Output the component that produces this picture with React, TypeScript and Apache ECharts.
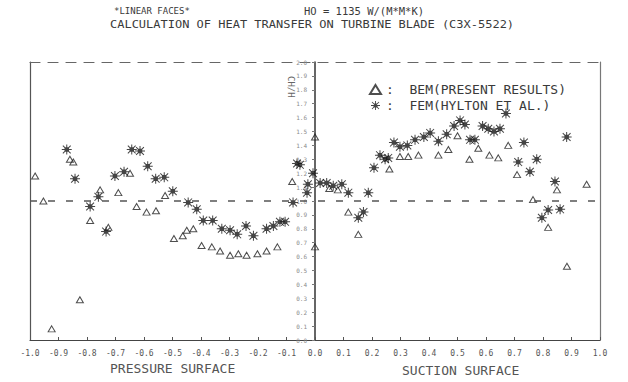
import React, { useEffect, useRef } from "react";
import * as echarts from "echarts";

// FEM (HYLTON ET AL.) — asterisks
const femX = [
  -0.871, -0.842, -0.789, -0.760, -0.733, -0.702, -0.670, -0.643, -0.614, -0.587,
  -0.559, -0.529, -0.499, -0.445, -0.415, -0.392, -0.359, -0.327, -0.298, -0.273,
  -0.242, -0.216, -0.170, -0.146, -0.123, -0.105, -0.077, -0.063, -0.053, -0.028,
  -0.025, -0.007,
  0.018, 0.041, 0.064, 0.094, 0.117, 0.152, 0.170, 0.187, 0.207, 0.228,
  0.246, 0.257, 0.277, 0.298, 0.324, 0.351, 0.382, 0.404, 0.433, 0.462,
  0.488, 0.509, 0.526, 0.544, 0.561, 0.588, 0.608, 0.628, 0.649, 0.670,
  0.713, 0.733, 0.754, 0.778, 0.796, 0.818, 0.842, 0.860, 0.883,
];
const femY = [
  1.37, 1.16, 0.96, 1.03, 0.78, 1.18, 1.21, 1.37, 1.36, 1.25,
  1.16, 1.17, 1.07, 0.99, 0.94, 0.86, 0.86, 0.80, 0.79, 0.76,
  0.82, 0.75, 0.80, 0.82, 0.85, 0.85, 0.99, 1.27, 1.26, 1.06,
  1.12, 1.20,
  1.13, 1.13, 1.11, 1.12, 1.06, 0.88, 0.92, 1.06, 1.24, 1.33,
  1.30, 1.31, 1.42, 1.39, 1.40, 1.44, 1.46, 1.49, 1.43, 1.48,
  1.54, 1.58, 1.55, 1.44, 1.44, 1.54, 1.52, 1.50, 1.52, 1.63,
  1.28, 1.42, 1.21, 1.30, 0.88, 0.935, 1.14, 0.94, 1.46,
];

// BEM (PRESENT RESULTS) — open triangles
const bemX = [
  -0.982, -0.953, -0.924, -0.860, -0.848, -0.825, -0.789, -0.754, -0.725, -0.690,
  -0.649, -0.626, -0.591, -0.558, -0.526, -0.495, -0.464, -0.450, -0.427, -0.398,
  -0.362, -0.333, -0.298, -0.269, -0.240, -0.202, -0.170, -0.132, -0.080,
  0.0, 0.0, 0.05, 0.08, 0.117, 0.152, 0.261, 0.298, 0.327, 0.363,
  0.433, 0.468, 0.500, 0.542, 0.573, 0.612, 0.643, 0.678, 0.709, 0.765,
  0.818, 0.849, 0.884, 0.953,
];
const bemY = [
  1.18, 1.00, 0.08, 1.30, 1.28, 0.29, 0.86, 1.08, 0.81, 1.06,
  1.20, 0.96, 0.92, 0.93, 1.04, 0.73, 0.75, 0.79, 0.80, 0.68,
  0.67, 0.64, 0.61, 0.62, 0.61, 0.62, 0.64, 0.67, 1.14,
  1.46, 0.67, 1.09, 1.08, 0.92, 0.76, 1.23, 1.32, 1.32, 1.33,
  1.33, 1.37, 1.47, 1.30, 1.38, 1.33, 1.31, 1.40, 1.19, 1.01,
  0.81, 1.08, 0.53, 1.12,
];

const refLevel = 1.0;
const xRange = [-1, 1];
const yRange = [0, 2];

const MONO = "'DejaVu Sans Mono', 'Liberation Mono', monospace";
const INK = "#3a3a3a";
const STAR =
  "path://M9 0h2v20h-2zM0 9h20v2h-20zM2.9 1.5L18.5 17.1L17.1 18.5L1.5 2.9zM17.1 1.5L18.5 2.9L2.9 18.5L1.5 17.1zM5.5 5.5h9v9h-9z";

const GRID_LEFT = 30;
const GRID_RIGHT = 28;
const WIDTH = 628;

export default function App() {
  const ref = useRef<HTMLDivElement>(null);
  useEffect(() => {
    if (!ref.current) return;
    const chart = echarts.init(ref.current, null, { renderer: "svg" });
    const fem = femX.map((x, i) => [x, femY[i]]);
    const bem = bemX.map((x, i) => [x, bemY[i]]);
    // centre axis sits at x = 0 of the horizontal scale
    const plotW = WIDTH - GRID_LEFT - GRID_RIGHT;
    const centreOffset = -plotW * ((0 - xRange[0]) / (xRange[1] - xRange[0]));
    chart.setOption({
      animation: false,
      backgroundColor: "#ffffff",
      grid: { left: GRID_LEFT, right: GRID_RIGHT, top: 62, bottom: 42 },
      legend: {
        orient: "vertical",
        left: 364,
        top: 78,
        itemGap: 3,
        itemWidth: 11,
        itemHeight: 9,
        formatter: ":  {name}",
        textStyle: { fontFamily: MONO, fontSize: 13, color: INK },
        data: ["BEM(PRESENT RESULTS)", "FEM(HYLTON ET AL.)"],
      },
      xAxis: [
        {
          type: "value",
          min: xRange[0],
          max: xRange[1],
          interval: 0.1,
          position: "bottom",
          axisLine: { onZero: false, lineStyle: { color: "#444", width: 1.2 } },
          axisTick: { inside: true, length: 3, lineStyle: { color: "#555" } },
          axisLabel: {
            fontFamily: MONO,
            fontSize: 8,
            color: "#555",
            margin: 9,
            formatter: (v: number) => (Math.abs(v) < 1e-9 ? "0.0" : v.toFixed(1)),
          },
          splitLine: { show: false },
        },
        {
          type: "value",
          min: xRange[0],
          max: xRange[1],
          position: "top",
          axisLine: { onZero: false, lineStyle: { color: "#666", width: 1.2, type: [10, 8] } },
          axisTick: { show: false },
          axisLabel: { show: false },
          splitLine: { show: false },
        },
      ],
      yAxis: [
        {
          type: "value",
          min: yRange[0],
          max: yRange[1],
          interval: 0.1,
          position: "left",
          offset: centreOffset,
          axisLine: { show: true, onZero: false, lineStyle: { color: "#333", width: 1.5 } },
          axisTick: { show: true, length: 3, lineStyle: { color: "#777" } },
          axisLabel: {
            fontFamily: MONO,
            fontSize: 6,
            color: "#8a8a8a",
            margin: 8,
            formatter: (v: number) => v.toFixed(1),
          },
          splitLine: { show: false },
        },
        {
          type: "value",
          min: yRange[0],
          max: yRange[1],
          position: "left",
          axisLine: { show: true, onZero: false, lineStyle: { color: "#555", width: 1.2 } },
          axisTick: { show: false },
          axisLabel: { show: false },
          splitLine: { show: false },
        },
        {
          type: "value",
          min: yRange[0],
          max: yRange[1],
          position: "right",
          axisLine: { show: true, onZero: false, lineStyle: { color: "#777", width: 1.2 } },
          axisTick: { show: false },
          axisLabel: { show: false },
          splitLine: { show: false },
        },
      ],
      series: [
        {
          name: "BEM(PRESENT RESULTS)",
          type: "scatter",
          symbol: "triangle",
          symbolSize: [7, 6],
          itemStyle: { color: "rgba(255,255,255,0)", borderColor: "#222", borderWidth: 1 },
          data: bem,
          markLine: {
            silent: true,
            symbol: "none",
            label: { show: false },
            lineStyle: { color: "#555", width: 1.5, type: [7, 11] },
            data: [{ yAxis: refLevel }],
          },
          z: 3,
        },
        {
          name: "FEM(HYLTON ET AL.)",
          type: "scatter",
          symbol: STAR,
          symbolSize: 10,
          itemStyle: { color: "#151515" },
          data: fem,
          z: 4,
        },
      ],
      graphic: [
        {
          type: "text",
          left: 114,
          top: 6,
          style: { text: "*LINEAR FACES*", fontFamily: MONO, fontSize: 9, fill: INK },
        },
        {
          type: "text",
          left: 304,
          top: 6,
          scaleX: 1.05,
          style: { text: "HO = 1135 W/(M*M*K)", fontFamily: MONO, fontSize: 10, fill: INK },
        },
        {
          type: "text",
          left: 110,
          top: 20,
          scaleX: 1.2,
          style: {
            text: "CALCULATION OF HEAT TRANSFER ON TURBINE BLADE (C3X-5522)",
            fontFamily: MONO,
            fontSize: 10,
            fill: INK,
          },
        },
        {
          type: "text",
          x: 295,
          y: 76,
          rotation: -Math.PI / 2,
          style: { text: "CH/H", fontFamily: MONO, fontSize: 9, fill: "#666" },
        },
        {
          type: "text",
          left: 110,
          top: 362,
          style: { text: "PRESSURE SURFACE", fontFamily: MONO, fontSize: 13, fill: "#555" },
        },
        {
          type: "text",
          left: 402,
          top: 364,
          style: { text: "SUCTION SURFACE", fontFamily: MONO, fontSize: 13, fill: "#555" },
        },
      ],
    });
    return () => chart.dispose();
  }, []);
  return (
    <div
      ref={ref}
      style={{ position: "fixed", left: 0, top: 0, width: 628, height: 382, background: "#fff" }}
    />
  );
}
